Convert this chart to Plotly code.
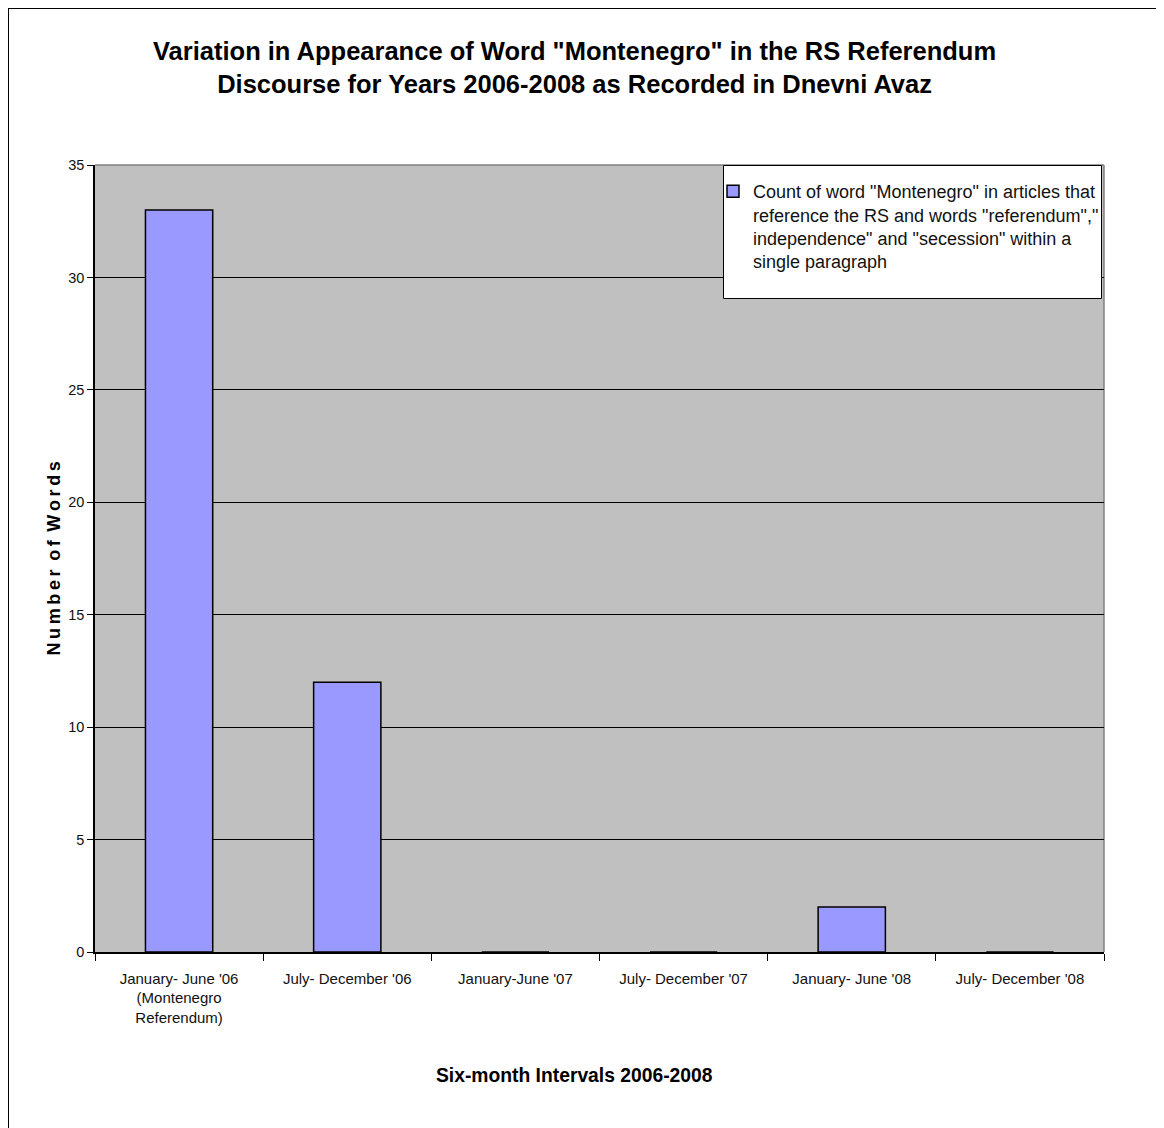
import plotly.graph_objects as go

categories = ["January- June '06<br>(Montenegro<br>Referendum)", "July- December '06", "January-June '07",
              "July- December '07", "January- June '08", "July- December '08"]
values = [33, 12, 0, 0, 2, 0]
series_name = ('Count of word "Montenegro" in articles that<br>reference the RS and words "referendum","<br>'
               'independence" and "secession" within a<br>single paragraph')
y_ticks = [0, 5, 10, 15, 20, 25, 30, 35]

FONT = "Liberation Sans, Arial, sans-serif"
OFF = 8  # page body margin
W, H = 1164 - OFF, 1128 - OFF
L, R, T, B = 95 - OFF, 1104 - OFF, 165 - OFF, 952 - OFF

def px(x):  # reference-screen x -> paper
    return (x - OFF - L) / (R - L)

def py(y):  # reference-screen y -> paper
    return (B - (y - OFF)) / (B - T)

fig = go.Figure()
fig.add_trace(go.Bar(
    x=categories, y=values, name=series_name,
    marker=dict(color="#9999FF", line=dict(color="black", width=1.5)),
    showlegend=True,
))

ytitle = "\u2009".join("Number") + " \u2009" + "\u2009".join("of") + " \u2009" + "\u2009".join("Words")

fig.update_layout(
    width=W, height=H,
    margin=dict(l=L, r=W - R, t=T, b=H - B, autoexpand=False),
    paper_bgcolor="white", plot_bgcolor="#C0C0C0",
    font=dict(family=FONT, color="black", size=15),
    bargap=0.6,
    showlegend=True,
    legend=dict(x=px(713), y=py(173), xanchor="left", yanchor="top",
                bgcolor="rgba(0,0,0,0)", borderwidth=0,
                valign="top", font=dict(size=18, family=FONT, color="#111111")),
    xaxis=dict(type="category", showline=True, linecolor="black", linewidth=1.5,
               ticks="outside", ticklen=7, tickcolor="black", tickson="boundaries",
               ticklabelstandoff=12,
               showgrid=False, tickfont=dict(size=15, family=FONT, color="#111111"), tickangle=0,
               range=[-0.5, 5.5]),
    yaxis=dict(range=[0, 35], tickvals=y_ticks, showline=True, linecolor="black", linewidth=1.5,
               ticks="outside", ticklen=6, tickcolor="black",
               showgrid=True, gridcolor="black", gridwidth=1, zeroline=False,
               tickfont=dict(size=14.5, family=FONT, color="#111111")),
)

# chart title
fig.add_annotation(text="<b>Variation in Appearance of Word \"Montenegro\" in the RS Referendum<br>"
                        "Discourse for Years 2006-2008 as Recorded in Dnevni Avaz</b>",
                   xref="paper", yref="paper", x=px(574), y=py(67.5),
                   xanchor="center", yanchor="middle", showarrow=False,
                   font=dict(size=25.5, family=FONT, color="black"))
# y-axis title (letter spaced) and x-axis title
fig.add_annotation(text="<b>" + ytitle + "</b>", textangle=-90,
                   xref="paper", yref="paper", x=px(53.5), y=py(559),
                   xanchor="center", yanchor="middle", showarrow=False,
                   font=dict(size=18, family=FONT, color="black"))
fig.add_annotation(text="<b>Six-month Intervals 2006-2008</b>",
                   xref="paper", yref="paper", x=px(574.5), y=py(1075),
                   xanchor="center", yanchor="middle", showarrow=False,
                   font=dict(size=19.3, family=FONT, color="black"))

# gray top/right plot border
fig.add_shape(type="line", xref="paper", yref="paper", x0=0, x1=1, y0=1, y1=1,
              line=dict(color="#808080", width=1.5), layer="below")
fig.add_shape(type="line", xref="paper", yref="paper", x0=1, x1=1, y0=0, y1=1,
              line=dict(color="#808080", width=1.5), layer="below")
# legend box
fig.add_shape(type="rect", xref="paper", yref="paper", x0=px(723.5), x1=px(1101.5), y0=py(298.5), y1=py(165.5),
              fillcolor="white", line=dict(color="black", width=1), layer="above")
# outer chart border (left and top visible)
fig.add_shape(type="line", xref="paper", yref="paper", x0=px(8), x1=px(8), y0=py(1140), y1=py(8),
              line=dict(color="black", width=2))
fig.add_shape(type="line", xref="paper", yref="paper", x0=px(7), x1=px(1170), y0=py(8), y1=py(8),
              line=dict(color="black", width=2))

fig.write_html("out.html")
